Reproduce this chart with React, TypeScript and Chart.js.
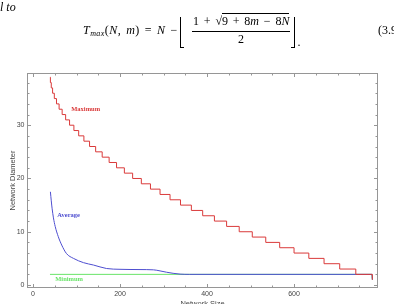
import React, { useEffect, useRef } from "react";
import { Chart, registerables } from "chart.js";

Chart.register(...registerables);

// ---- data ----
const MAX_SIZE = [39, 40, 42, 45, 49, 54, 60, 67, 75, 84, 94, 105, 117, 130, 144, 159, 175, 192, 210, 229, 249, 270, 292, 315, 339, 364, 390, 417, 445, 474, 504, 535, 567, 600, 634, 669, 705, 742, 780];
const MAX_DIAM = [39, 38, 37, 36, 35, 34, 33, 32, 31, 30, 29, 28, 27, 26, 25, 24, 23, 22, 21, 20, 19, 18, 17, 16, 15, 14, 13, 12, 11, 10, 9, 8, 7, 6, 5, 4, 3, 2, 1];

const AVG_SIZE = [40, 42, 44, 47, 51, 58, 66, 77, 93, 116, 139, 169, 200, 246, 277, 292, 307, 322, 338, 360, 779, 780];
const AVG_DIAM = [17.5, 15.8, 14.3, 12.6, 11.0, 9.1, 7.5, 5.9, 5.0, 4.2, 3.75, 3.1, 2.95, 2.9, 2.85, 2.65, 2.4, 2.2, 2.05, 2.0, 2.0, 1.0];

const MIN_SIZE = [39, 779, 780];
const MIN_DIAM = [2, 2, 1];

const SERIES_NAMES = ["Maximum", "Average", "Minimum"];

const X_TICKS = [0, 200, 400, 600];
const Y_TICKS = [0, 10, 20, 30];
const X_MINOR = [0, 50, 100, 150, 200, 250, 300, 350, 400, 450, 500, 550, 600, 650, 700, 750];
const Y_MINOR = [0, 2, 4, 6, 8, 10, 12, 14, 16, 18, 20, 22, 24, 26, 28, 30, 32, 34, 36, 38];

const X_TITLE = "Network Size";
const Y_TITLE = "Network Diameter";

// ---- styles ----
const RED = "rgb(218,58,58)";
const BLUE = "rgb(78,78,208)";
const GREEN = "rgb(105,228,105)";
const FRAME = "rgb(150,150,150)";
const TEXT = "rgb(70,70,70)";
const SANS = '"Liberation Sans", Arial, sans-serif';
const SERIF = '"Liberation Serif", "DejaVu Serif", serif';

// label placements (data coordinates)
const LABEL_AT = [
  { x: 121, y: 33.0, color: RED },
  { x: 82, y: 13.0, color: BLUE },
  { x: 83, y: 1.05, color: GREEN },
];

const toPts = (xs: number[], ys: number[]) => xs.map((x, i) => ({ x, y: ys[i] }));

const framePlugin = {
  id: "frameTicks",
  beforeDatasetsDraw(chart: any) {
    const { ctx, chartArea: a, scales } = chart;
    const xs = scales.x;
    const ys = scales.y;
    ctx.save();
    ctx.strokeStyle = FRAME;
    ctx.lineWidth = 1;
    ctx.strokeRect(a.left + 0.5, a.top + 0.5, a.right - a.left - 1, a.bottom - a.top - 1);
    ctx.beginPath();
    X_MINOR.forEach((v) => {
      const px = Math.round(xs.getPixelForValue(v)) + 0.5;
      const len = X_TICKS.includes(v) ? 4 : 2.5;
      ctx.moveTo(px, a.bottom);
      ctx.lineTo(px, a.bottom - len);
      ctx.moveTo(px, a.top);
      ctx.lineTo(px, a.top + len);
    });
    Y_MINOR.forEach((v) => {
      const py = Math.round(ys.getPixelForValue(v)) + 0.5;
      const len = Y_TICKS.includes(v) ? 4 : 2.5;
      ctx.moveTo(a.left, py);
      ctx.lineTo(a.left + len, py);
      ctx.moveTo(a.right, py);
      ctx.lineTo(a.right - len, py);
    });
    ctx.stroke();
    ctx.restore();
  },
  afterDatasetsDraw(chart: any) {
    const { ctx, scales } = chart;
    ctx.save();
    ctx.font = `bold 6.5px ${SERIF}`;
    ctx.textAlign = "center";
    ctx.textBaseline = "middle";
    SERIES_NAMES.forEach((name, i) => {
      const p = LABEL_AT[i];
      ctx.fillStyle = p.color;
      ctx.fillText(name, scales.x.getPixelForValue(p.x), scales.y.getPixelForValue(p.y));
    });
    ctx.restore();
  },
};

function abs(left: number, top: number, extra: any = {}) {
  return {
    position: "absolute" as const,
    left,
    top,
    fontSize: 12,
    lineHeight: "12px",
    whiteSpace: "nowrap" as const,
    fontFamily: SERIF,
    color: "#000",
    ...extra,
  };
}

export default function App() {
  const ref = useRef<HTMLCanvasElement | null>(null);

  useEffect(() => {
    document.body.style.margin = "0";
    const canvas = ref.current;
    if (!canvas) return;
    const chart = new Chart(canvas, {
      type: "line",
      data: {
        datasets: [
          {
            label: SERIES_NAMES[0],
            data: toPts(MAX_SIZE, MAX_DIAM),
            borderColor: RED,
            borderWidth: 1,
            pointRadius: 0,
            stepped: "before",
            fill: false,
          },
          {
            label: SERIES_NAMES[1],
            data: toPts(AVG_SIZE, AVG_DIAM),
            borderColor: BLUE,
            borderWidth: 1,
            pointRadius: 0,
            cubicInterpolationMode: "monotone",
            fill: false,
          },
          {
            label: SERIES_NAMES[2],
            data: toPts(MIN_SIZE, MIN_DIAM),
            borderColor: GREEN,
            borderWidth: 1,
            pointRadius: 0,
            fill: false,
          },
        ],
      },
      options: {
        animation: false,
        responsive: false,
        maintainAspectRatio: false,
        devicePixelRatio: 1,
        layout: { padding: { left: 6, right: 16, top: 73, bottom: 0 } },
        plugins: { legend: { display: false }, tooltip: { enabled: false } },
        scales: {
          x: {
            type: "linear",
            min: -13.8,
            max: 793,
            grid: { display: false, drawTicks: false },
            border: { display: false },
            afterBuildTicks: (s: any) => {
              s.ticks = X_TICKS.map((v) => ({ value: v }));
            },
            afterFit: (s: any) => {
              s.height = 24;
            },
            ticks: {
              font: { family: SANS, size: 7 },
              color: TEXT,
              padding: 2,
              maxRotation: 0,
              autoSkip: false,
            },
            title: {
              display: true,
              text: X_TITLE,
              font: { family: SANS, size: 7.5 },
              color: TEXT,
              padding: { top: 0, bottom: 4 },
            },
          },
          y: {
            type: "linear",
            min: -0.56,
            max: 39.8,
            grid: { display: false, drawTicks: false },
            border: { display: false },
            afterBuildTicks: (s: any) => {
              s.ticks = Y_TICKS.map((v) => ({ value: v }));
            },
            afterFit: (s: any) => {
              s.width = 21;
            },
            ticks: {
              font: { family: SANS, size: 7 },
              color: TEXT,
              padding: 2.5,
              autoSkip: false,
            },
            title: {
              display: true,
              text: Y_TITLE,
              font: { family: SANS, size: 7.5 },
              color: TEXT,
              padding: { top: 2, bottom: 0 },
            },
          },
        },
      },
      plugins: [framePlugin],
    } as any);
    return () => chart.destroy();
  }, []);

  return (
    <div style={{ position: "relative", width: 394, height: 304, overflow: "hidden", background: "#fff" }}>
      <canvas ref={ref} width={394} height={312} style={{ position: "absolute", left: 0, top: 0 }} />
      <div style={abs(0, 0.7, { fontStyle: "italic" })}>l to</div>
      <div style={abs(83, 24, { letterSpacing: "0.45px" })}>
        <i>T</i>
        <i style={{ fontSize: 8, position: "relative", top: 2 }}>max</i>(<i>N</i>,<span style={{ marginLeft: 1.5 }}> </span><i>m</i>)
        <span style={{ margin: "0 5px" }}>=</span>
        <i>N</i>
        <span style={{ marginLeft: 5 }}>−</span>
      </div>
      <div style={abs(180, 17, { width: 4, height: 31, borderLeft: "1px solid #000", borderBottom: "1px solid #000", boxSizing: "border-box" })} />
      <div style={abs(291, 17, { width: 4, height: 31, borderRight: "1px solid #000", borderBottom: "1px solid #000", boxSizing: "border-box" })} />
      <div style={abs(193, 14.7)}>
        1<span style={{ margin: "0 4.8px" }}>+</span>√
        <span style={{ borderTop: "1px solid #000", paddingTop: 0 }}>
          9<span style={{ margin: "0 4.8px" }}>+</span>8<i>m</i>
          <span style={{ margin: "0 4.8px" }}>−</span>8<i>N</i>
        </span>
      </div>
      <div style={abs(192, 31, { width: 98, height: 1, background: "#000" })} />
      <div style={abs(238, 33.3)}>2</div>
      <div style={abs(297.5, 36)}>.</div>
      <div style={abs(378, 24)}>(3.9)</div>
    </div>
  );
}
